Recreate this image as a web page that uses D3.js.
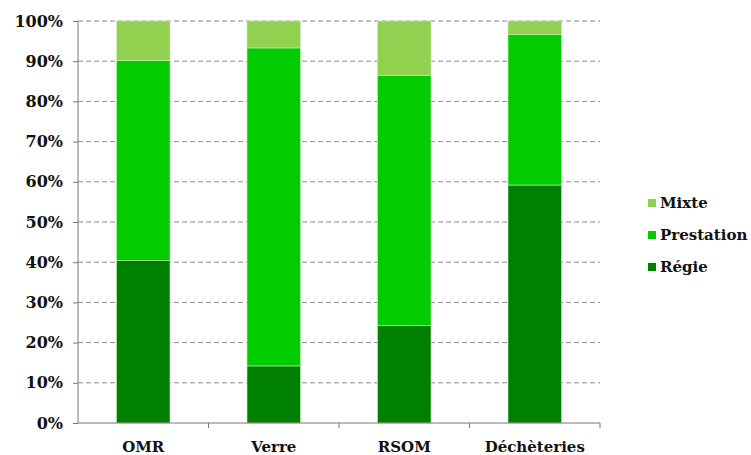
<!DOCTYPE html>
<html>
<head>
<meta charset="utf-8">
<script src="https://cdn.jsdelivr.net/npm/d3@7"></script>
<style>
body { margin: 0; background: #fff; }
text { font-family: "DejaVu Serif", serif; font-weight: bold; fill: #111; }
</style>
</head>
<body>
<script>
var CATEGORIES = ["OMR", "Verre", "RSOM", "Déchèteries"];
var SERIES = ["Régie", "Prestation", "Mixte"];
var REGIE = [40.4, 14.2, 24.2, 59.2];
var PRESTATION = [49.8, 79.1, 62.2, 37.4];
var MIXTE = [9.8, 6.7, 13.6, 3.4];
var Y_TICKS = [0, 10, 20, 30, 40, 50, 60, 70, 80, 90, 100];
var COLORS = ["#008000", "#00cc00", "#92d050"];

var W = 751, H = 455;
var LEFT = 78, RIGHT = 600, TOP = 21, BOTTOM = 423;

var rows = CATEGORIES.map(function(c, i) {
    return { cat: c, "Régie": REGIE[i], "Prestation": PRESTATION[i], "Mixte": MIXTE[i] };
});
var stacked = d3.stack().keys(SERIES)(rows);

var svg = d3.select("body").append("svg")
    .attr("width", W)
    .attr("height", H);

var x = d3.scaleBand().domain(CATEGORIES).range([LEFT, RIGHT]).paddingInner(0.59).paddingOuter(0.295);
var xb = d3.scaleBand().domain(CATEGORIES).range([LEFT, RIGHT]);
var y = d3.scaleLinear().domain([0, 100]).range([BOTTOM, TOP]);

// dashed grid lines
svg.append("g").selectAll("line")
    .data(Y_TICKS.slice(1))
    .enter().append("line")
    .attr("x1", LEFT).attr("x2", RIGHT)
    .attr("y1", function(d) { return y(d); })
    .attr("y2", function(d) { return y(d); })
    .style("stroke", "#8c8c8c")
    .style("stroke-width", 1)
    .style("stroke-dasharray", "5,3");

// bars
svg.append("g").selectAll("g")
    .data(stacked)
    .enter().append("g")
    .style("fill", function(d, i) { return COLORS[i]; })
    .selectAll("rect")
    .data(function(d) { return d; })
    .enter().append("rect")
    .attr("x", function(d) { return x(d.data.cat); })
    .attr("width", x.bandwidth())
    .attr("y", function(d) { return y(d[1]); })
    .attr("height", function(d) { return y(d[0]) - y(d[1]); })
    .style("stroke", "#c8eeb8")
    .style("stroke-width", 0.6);

// y axis
var yAxis = svg.append("g")
    .attr("transform", "translate(" + LEFT + ",0)")
    .call(d3.axisLeft(y).tickValues(Y_TICKS).tickSize(5).tickPadding(10)
        .tickFormat(function(d) { return d + "%"; }));
yAxis.selectAll("path, line").style("stroke", "#777");
yAxis.select(".domain").attr("d", "M0," + TOP + "V" + BOTTOM);
yAxis.selectAll("text").style("font-size", "16px").style("font-family", "DejaVu Serif").style("font-weight", "bold").style("fill", "#111");

// x axis
var xAxis = svg.append("g").attr("transform", "translate(0," + BOTTOM + ")");
xAxis.append("line").attr("x1", LEFT).attr("x2", RIGHT).style("stroke", "#777");
xAxis.selectAll(".tk")
    .data(CATEGORIES)
    .enter().append("line")
    .attr("x1", function(d) { return xb(d) + xb.bandwidth(); })
    .attr("x2", function(d) { return xb(d) + xb.bandwidth(); })
    .attr("y1", 0).attr("y2", 5)
    .style("stroke", "#777");
xAxis.selectAll(".lbl")
    .data(CATEGORIES)
    .enter().append("text")
    .attr("x", function(d) { return xb(d) + xb.bandwidth() / 2; })
    .attr("y", 29)
    .attr("text-anchor", "middle")
    .style("font-size", "15px")
    .text(function(d) { return d; });

// legend
var legendOrder = ["Mixte", "Prestation", "Régie"];
var leg = svg.append("g").selectAll("g")
    .data(legendOrder)
    .enter().append("g")
    .attr("transform", function(d, i) { return "translate(648," + (203 + i * 32) + ")"; });
leg.append("rect")
    .attr("x", 0).attr("y", -4)
    .attr("width", 8).attr("height", 8)
    .style("fill", function(d) { return COLORS[SERIES.indexOf(d)]; });
leg.append("text")
    .attr("x", 12).attr("y", 5)
    .style("font-size", "15px")
    .text(function(d) { return d; });
</script>
</body>
</html>
